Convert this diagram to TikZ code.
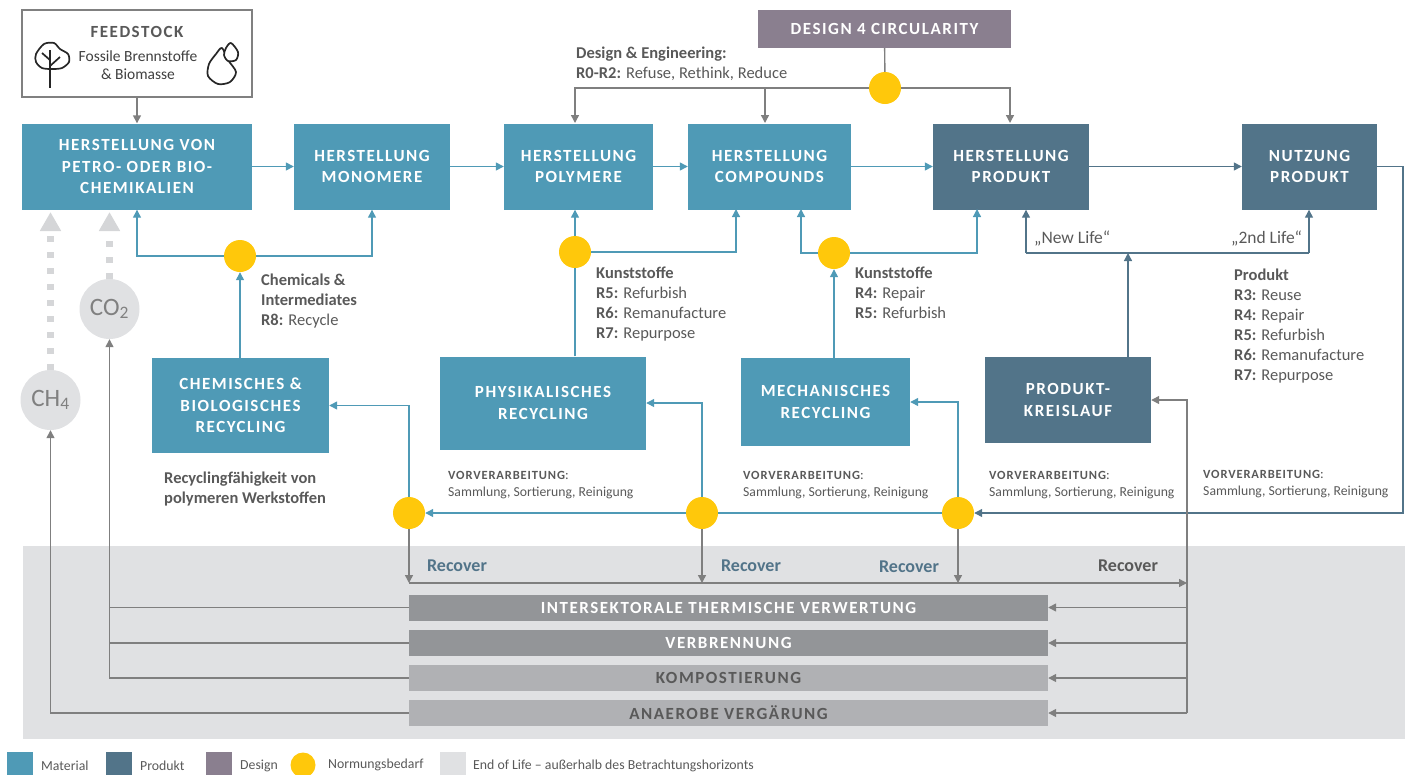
\documentclass[tikz,border=0pt]{standalone}
\usepackage{fontspec}
\setmainfont{Carlito}
\newfontfamily\capsfont[LetterSpace=9]{Carlito}
\newfontfamily\voorfont[LetterSpace=7]{Carlito}
\usetikzlibrary{arrows.meta}
\definecolor{material}{HTML}{4F9AB6}
\definecolor{produkt}{HTML}{527489}
\definecolor{designc}{HTML}{8A7F8F}
\definecolor{normung}{HTML}{FFC80B}
\definecolor{eol}{HTML}{E0E1E3}
\definecolor{bardark}{HTML}{939598}
\definecolor{barlight}{HTML}{B0B1B4}
\definecolor{linegray}{HTML}{7F7F7F}
\definecolor{textgray}{HTML}{595959}
\tikzset{
	boxlabel/.style={text=white, align=center, font=\capsfont\bfseries\fontsize{17}{21.5}\selectfont},
	matbox/.style={boxlabel, fill=material},
	prodbox/.style={boxlabel, fill=produkt},
	barbox/.style={text=white, minimum width=639pt, minimum height=26pt, inner sep=0pt, font=\capsfont\bfseries\fontsize{17}{18}\selectfont},
	circnode/.style={circle, fill=normung, minimum size=32pt, inner sep=0pt},
	gasnode/.style={circle, fill=eol, minimum size=60pt, inner sep=0pt, text=gray, font=\fontsize{25}{26}\selectfont},
	note/.style={anchor=north west, inner sep=0pt, align=left, text=textgray, font=\fontsize{16.5}{20}\selectfont},
	lifelabel/.style={anchor=north west, inner sep=0pt, text=textgray, font=\fontsize{17.5}{20}\selectfont},
	smallnote/.style={anchor=north west, inner sep=0pt, align=left, text=textgray, font=\fontsize{13.7}{17}\selectfont},
	recover/.style={inner sep=0pt, font=\bfseries\fontsize{18}{20}\selectfont},
	legendbox/.style={minimum width=26pt, minimum height=23pt, inner sep=0pt},
	legendtext/.style={anchor=west, inner sep=0pt, text=textgray, font=\fontsize{13.8}{15}\selectfont},
	matline/.style={draw=material, line width=1.3pt, >={Triangle[width=8pt,length=8pt]}},
	prodline/.style={draw=produkt, line width=1.3pt, >={Triangle[width=8pt,length=8pt]}},
	grayline/.style={draw=linegray, line width=1.4pt, >={Triangle[width=8pt,length=8pt]}},
	gasarrow/.style={draw=eol!95!black, line width=7pt, dash pattern=on 6pt off 10pt, -{Triangle[width=20pt,length=19pt]}},
	icon/.style={draw=black!85, line width=1.7pt, line join=round},
}
\begin{document}
\begin{tikzpicture}[x=1pt, y=-1pt]
		\useasboundingbox (0,0) rectangle (1411,774);
		
		\node (eolarea) [fill=eol, minimum width=1382pt, minimum height=193pt, inner sep=0pt] at (714,642.5) {};
		
		\node (feedstock) [draw=gray, line width=1.2pt, fill=white, minimum width=230pt, minimum height=87pt, inner sep=0pt] at (137,53.5) {};
		\node (feedtitle) [text=textgray, inner sep=0pt, font=\capsfont\bfseries\fontsize{17}{18}\selectfont] at (137,31.5) {FEEDSTOCK};
		\node (feedtext) [text=black!75, align=center, inner sep=0pt, font=\fontsize{15.5}{18}\selectfont] at (138,65.5) {Fossile Brennstoffe\\\& Biomasse};
		
		\node (chem) [matbox, minimum width=230pt, minimum height=86pt] at (137,166.5) {HERSTELLUNG VON\\PETRO- ODER BIO-\\CHEMIKALIEN};
		\node (mono) [matbox, minimum width=156pt, minimum height=86pt] at (372,166.5) {HERSTELLUNG\\MONOMERE};
		\node (poly) [matbox, minimum width=149pt, minimum height=86pt] at (578.5,166.5) {HERSTELLUNG\\POLYMERE};
		\node (comp) [matbox, minimum width=163pt, minimum height=86pt] at (769.5,166.5) {HERSTELLUNG\\COMPOUNDS};
		\node (prod) [prodbox, minimum width=156pt, minimum height=86pt] at (1011,166.5) {HERSTELLUNG\\PRODUKT};
		\node (nutz) [prodbox, minimum width=135pt, minimum height=86pt] at (1309.5,166.5) {NUTZUNG\\PRODUKT};
		\node (design) [boxlabel, fill=designc, minimum width=253pt, minimum height=38pt] at (884.5,29) {DESIGN 4 CIRCULARITY};
		
		\node (chemrec) [matbox, minimum width=177pt, minimum height=95pt] at (240.5,405.5) {CHEMISCHES \&\\BIOLOGISCHES\\RECYCLING};
		\node (phys) [matbox, minimum width=206pt, minimum height=93pt] at (543,403) {PHYSIKALISCHES\\RECYCLING};
		\node (mech) [matbox, minimum width=169pt, minimum height=88pt] at (825.5,402) {MECHANISCHES\\RECYCLING};
		\node (kreis) [prodbox, minimum width=166pt, minimum height=86pt] at (1068,400) {PRODUKT-\\KREISLAUF};
		
		\node (cirdes) [circnode] at (885,88) {};
		\node (cirmono) [circnode] at (240,256) {};
		\node (cirpoly) [circnode] at (575,252) {};
		\node (circomp) [circnode] at (834,253) {};
		\node (cirone) [circnode] at (409,513) {};
		\node (cirtwo) [circnode] at (702,513) {};
		\node (cirthree) [circnode] at (958,513) {};
		
		\node (co2) [gasnode] at (109.5,309) {CO\textsubscript{2}};
		\node (ch4) [gasnode] at (50.5,400) {CH\textsubscript{4}};
		
		\node (barone) [barbox, fill=bardark] at (728.5,607.5) {INTERSEKTORALE THERMISCHE VERWERTUNG};
		\node (bartwo) [barbox, fill=bardark] at (728.5,643) {VERBRENNUNG};
		\node (barthree) [barbox, fill=barlight, text=textgray] at (728.5,678) {KOMPOSTIERUNG};
		\node (barfour) [barbox, fill=barlight, text=textgray] at (728.5,713) {ANAEROBE VERGÄRUNG};
		
		\coordinate (polytop) at (575,123);
		\coordinate (comptop) at (765,123);
		\coordinate (prodtop) at (1010,123);
		\coordinate (compleft) at (736,209);
		\coordinate (compright) at (801,209);
		\coordinate (prodleft) at (977,209);
		\coordinate (newlife) at (1026,253);
		\coordinate (secondlife) at (1309,253);
		\coordinate (kreistop) at (1128,357);
		\coordinate (nutzcorner) at (1403,513);
		\coordinate (recleft) at (409,583);
		\coordinate (recright) at (1187,583);
		\coordinate (busbot) at (1187,713);
		\coordinate (ch4up) at (50.5,212);
		\coordinate (co2up) at (109.5,212);
		
		\draw [gasarrow] (ch4.north) to (ch4up);
		\draw [gasarrow] (co2.north) to (co2up);
		
		\draw [grayline, ->] (feedstock) to (chem);
		\draw [matline, ->] (chem) to (mono);
		\draw [matline, ->] (mono) to (poly);
		\draw [matline, ->] (poly) to (comp);
		\draw [matline, ->] (comp) to (prod);
		\draw [prodline, ->] (prod) to (nutz);
		
		\draw [grayline] (design) to (cirdes);
		\draw [grayline, ->] (cirdes.west) -| (polytop);
		\draw [grayline, ->] (comptop |- cirdes.west) to (comptop);
		\draw [grayline, ->] (cirdes.east) -| (prodtop);
		
		\draw [matline, ->] (cirmono.west) -| (chem.south);
		\draw [matline, ->] (cirmono.east) -| (mono.south);
		\draw [matline, ->] (chemrec.north -| cirmono) to (cirmono.south);
		
		\draw [matline, ->] (cirpoly.north) to (cirpoly.north |- poly.south);
		\draw [matline, ->] (cirpoly.east) -| (compleft);
		\draw [matline] (phys.north -| cirpoly) to (cirpoly.south);
		
		\draw [matline, ->] (circomp.west) -| (compright);
		\draw [matline, ->] (circomp.east) -| (prodleft);
		\draw [matline, ->] (mech.north -| circomp) to (circomp.south);
		
		\draw [prodline] (newlife) to (secondlife);
		\draw [prodline, ->] (newlife) to (newlife |- prod.south);
		\draw [prodline, ->] (secondlife) to (secondlife |- nutz.south);
		\draw [prodline, ->] (kreistop) to (kreistop |- newlife);
		
		\draw [prodline, ->] (nutz.east) -| (nutzcorner) to (cirthree.east);
		\draw [matline] (cirthree.west) to (cirtwo.east);
		\draw [matline, ->] (cirtwo.west) to (cirone.east);
		\draw [matline, ->] (cirthree.north) |- (mech.east);
		\draw [matline, ->] (cirtwo.north) |- (phys.east);
		\draw [matline, ->] (cirone.north) |- (chemrec.east);
		
		\draw [grayline, ->] (cirone.south) to (recleft);
		\draw [grayline, ->] (cirtwo.south) to (cirtwo.south |- recleft);
		\draw [grayline, ->] (cirthree.south) to (cirthree.south |- recleft);
		\draw [grayline, ->] (recleft) to (recright);
		\draw [grayline, ->] (busbot) |- (kreis.east);
		\draw [grayline, ->] (barone.east -| busbot) to (barone.east);
		\draw [grayline, ->] (bartwo.east -| busbot) to (bartwo.east);
		\draw [grayline, ->] (barthree.east -| busbot) to (barthree.east);
		\draw [grayline, ->] (busbot) to (barfour.east);
		
		\draw [grayline, ->] (barthree.west) -| (co2.south);
		\draw [grayline] (barone.west) to (barone.west -| co2.south);
		\draw [grayline] (bartwo.west) to (bartwo.west -| co2.south);
		\draw [grayline, ->] (barfour.west) -| (ch4.south);
		
		\node (notedesign) [note] at (576,47) {\textbf{Design \& Engineering:}\\\textbf{R0-R2:} Refuse, Rethink, Reduce};
		\node (notechem) [note] at (261,274) {\textbf{Chemicals \&}\\\textbf{Intermediates}\\\textbf{R8:} Recycle};
		\node (notephys) [note] at (596,267) {\textbf{Kunststoffe}\\\textbf{R5:} Refurbish\\\textbf{R6:} Remanufacture\\\textbf{R7:} Repurpose};
		\node (notemech) [note] at (855,267) {\textbf{Kunststoffe}\\\textbf{R4:} Repair\\\textbf{R5:} Refurbish};
		\node (noteprod) [note] at (1234,269) {\textbf{Produkt}\\\textbf{R3:} Reuse\\\textbf{R4:} Repair\\\textbf{R5:} Refurbish\\\textbf{R6:} Remanufacture\\\textbf{R7:} Repurpose};
		\node (notefaehig) [note] at (164,472) {\textbf{Recyclingfähigkeit von}\\\textbf{polymeren Werkstoffen}};
		\node (labelnew) [lifelabel] at (1034,231) {„New Life“};
		\node (labelsecond) [lifelabel] at (1231,231) {„2nd Life“};
		
		\node (vorone) [smallnote] at (448,471) {{\voorfont\bfseries\fontsize{12.5}{17}\selectfont VORVERARBEITUNG}:\\Sammlung, Sortierung, Reinigung};
		\node (vortwo) [smallnote] at (743,471) {{\voorfont\bfseries\fontsize{12.5}{17}\selectfont VORVERARBEITUNG}:\\Sammlung, Sortierung, Reinigung};
		\node (vorthree) [smallnote] at (989,471) {{\voorfont\bfseries\fontsize{12.5}{17}\selectfont VORVERARBEITUNG}:\\Sammlung, Sortierung, Reinigung};
		\node (vorfour) [smallnote] at (1203,470) {{\voorfont\bfseries\fontsize{12.5}{17}\selectfont VORVERARBEITUNG}:\\Sammlung, Sortierung, Reinigung};
		
		\node (recone) [recover, text=produkt] at (457,566) {Recover};
		\node (rectwo) [recover, text=produkt] at (751,566) {Recover};
		\node (recthree) [recover, text=produkt] at (909,567) {Recover};
		\node (recfour) [recover, text=textgray] at (1128,566) {Recover};
		
		\draw [icon] plot [smooth cycle] coordinates {(44,44) (54,43) (60,49) (68,54) (69,62) (62,68) (52,69) (42,68) (36,62) (36,54)};
		\draw [icon] (50,50) to (50,88);
		\draw [icon] (50,66) to (60,57);
		\draw [icon] (50,60) to (42,53);
		\draw [icon] plot [smooth cycle] coordinates {(222,48) (228,60) (236,72) (230,82) (218,84) (208,76) (209,64) (216,54)};
		\draw [icon, fill=white] plot [smooth cycle] coordinates {(231,43) (238,52) (236,60) (228,61) (224,55) (226,48)};
		
		\node (legmat) [legendbox, fill=material] at (20,763.5) {};
		\node (legprod) [legendbox, fill=produkt] at (119,763.5) {};
		\node (legdes) [legendbox, fill=designc] at (219,763.5) {};
		\node (legnorm) [circle, fill=normung, minimum size=25pt, inner sep=0pt] at (303,765) {};
		\node (legeol) [legendbox, fill=eol] at (453,763.5) {};
		\node (txtmat) [legendtext] at (41,766) {Material};
		\node (txtprod) [legendtext] at (140,766) {Produkt};
		\node (txtdes) [legendtext] at (240,766) {Design};
		\node (txtnorm) [legendtext] at (328,765) {Normungsbedarf};
		\node (txteol) [legendtext] at (473,766) {End of Life – außerhalb des Betrachtungshorizonts};
		
		\end{tikzpicture}
\end{document}
